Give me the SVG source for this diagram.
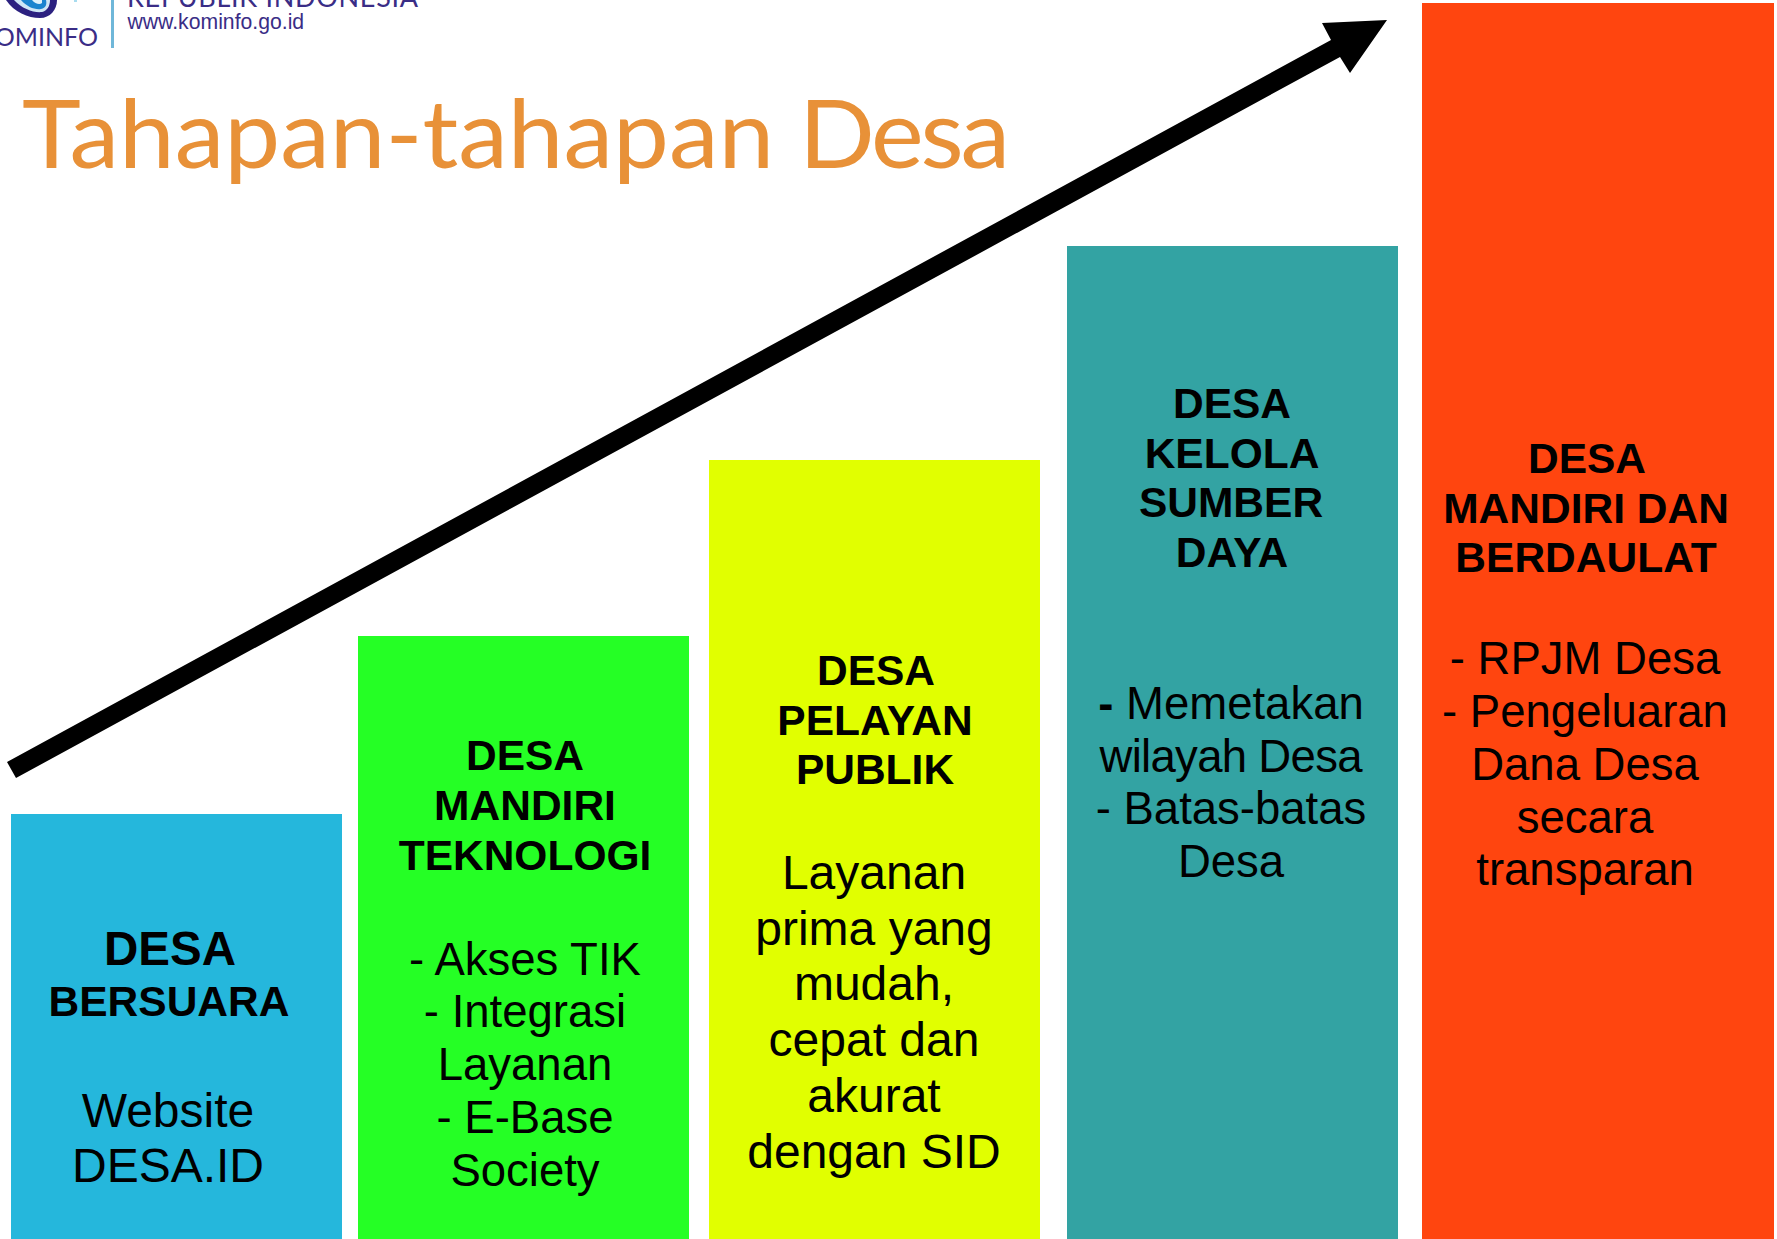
<svg xmlns="http://www.w3.org/2000/svg" width="1777" height="1239" viewBox="0 0 1777 1239">
<style>
text{font-family:"Liberation Sans",Arial,sans-serif;fill:#000;text-anchor:middle}
.h{font-weight:700;font-size:42.5px}
.b{font-size:45.5px}
.y{font-size:48px}
.logo{fill:#3a2d86}
</style>
<rect width="1777" height="1239" fill="#fff"/>
<g id="logo">
<path d="M6,0C14,12 28,18 40,18C50,18 57,10 57,0Z" fill="#2c2180"/>
<path d="M14,0C22,9 34,13 42,12C47,11 50,6 50,0Z" fill="#cfe6f5"/>
<path d="M21,0C27,7 35,10 41,9C46,8 47,4 46,0Z" fill="#1b84cf"/>
<path d="M32,0C35,4 40,5 42,3L42,0Z" fill="#dff1fb"/>
<rect x="74" y="0" width="3" height="2" fill="#a8dcef"/>
<rect x="111" y="0" width="3" height="48" fill="#6fb7d9"/>
<text class="logo" x="98" y="46" style="font-family:Lato,sans-serif;font-size:25px;text-anchor:end">KOMINFO</text>
<text class="logo" x="127" y="7" textLength="291" style="font-family:Lato,sans-serif;font-size:27px;text-anchor:start">REPUBLIK INDONESIA</text>
<text class="logo" x="127.5" y="29" style="font-size:21.2px;text-anchor:start">www.kominfo.go.id</text>
</g>
<g id="title"><text transform="translate(22,168) scale(1.05,1)" style="font-family:Lato,sans-serif;font-size:95px;fill:#e89138;text-anchor:start">Tahapan-tahapan <tspan x="740" letter-spacing="-3">Desa</tspan></text></g>
<g id="desa-bersuara">
<rect x="11" y="814" width="331" height="425" fill="#25b7dc"/>
<text x="170" y="965" style="font-weight:700;font-size:47.5px">DESA</text>
<text class="h" x="169" y="1016">BERSUARA</text>
<text class="y" x="168" y="1127">Website</text>
<text class="y" x="168" y="1182">DESA.ID</text>
</g>
<g id="desa-mandiri-teknologi">
<rect x="358" y="636" width="331" height="603" fill="#25ff25"/>
<text class="h" x="525" y="770">DESA</text>
<text class="h" x="525" y="820">MANDIRI</text>
<text class="h" x="525" y="870">TEKNOLOGI</text>
<text class="b" x="525" y="975">- Akses TIK</text>
<text class="b" x="525" y="1027">- Integrasi</text>
<text class="b" x="525" y="1080">Layanan</text>
<text class="b" x="525" y="1133">- E-Base</text>
<text class="b" x="525" y="1186">Society</text>
</g>
<g id="desa-pelayan-publik">
<rect x="709" y="460" width="331" height="779" fill="#e1ff00"/>
<text class="h" x="876" y="685">DESA</text>
<text class="h" x="875" y="735">PELAYAN</text>
<text class="h" x="875" y="784">PUBLIK</text>
<text class="y" x="874" y="889">Layanan</text>
<text class="y" x="874" y="945">prima yang</text>
<text class="y" x="874" y="1000">mudah,</text>
<text class="y" x="874" y="1056">cepat dan</text>
<text class="y" x="874" y="1112">akurat</text>
<text class="y" x="874" y="1168">dengan SID</text>
</g>
<g id="desa-kelola-sumber-daya">
<rect x="1067" y="246" width="331" height="993" fill="#33a3a3"/>
<text class="h" x="1232" y="418">DESA</text>
<text class="h" x="1232" y="468">KELOLA</text>
<text class="h" x="1231" y="517">SUMBER</text>
<text class="h" x="1232" y="567">DAYA</text>
<text class="b" x="1231" y="719"><tspan font-weight="700">-</tspan> Memetakan</text>
<text class="b" x="1231" y="772" textLength="263">wilayah Desa</text>
<text class="b" x="1231" y="824">- Batas-batas</text>
<text class="b" x="1231" y="877">Desa</text>
</g>
<g id="desa-mandiri-berdaulat">
<rect x="1422" y="3" width="352" height="1236" fill="#ff450f"/>
<text class="h" x="1587" y="473">DESA</text>
<text class="h" x="1586" y="523">MANDIRI DAN</text>
<text class="h" x="1586" y="572">BERDAULAT</text>
<text class="b" x="1585" y="674">- RPJM Desa</text>
<text class="b" x="1585" y="727">- Pengeluaran</text>
<text class="b" x="1585" y="780">Dana Desa</text>
<text class="b" x="1585" y="833">secara</text>
<text class="b" x="1585" y="885">transparan</text>
</g>
<g id="connectors">
<polygon points="7,762 16,778 1340,57 1350,73 1387,20 1322,23 1331,40" fill="#000"/>
</g>
</svg>
